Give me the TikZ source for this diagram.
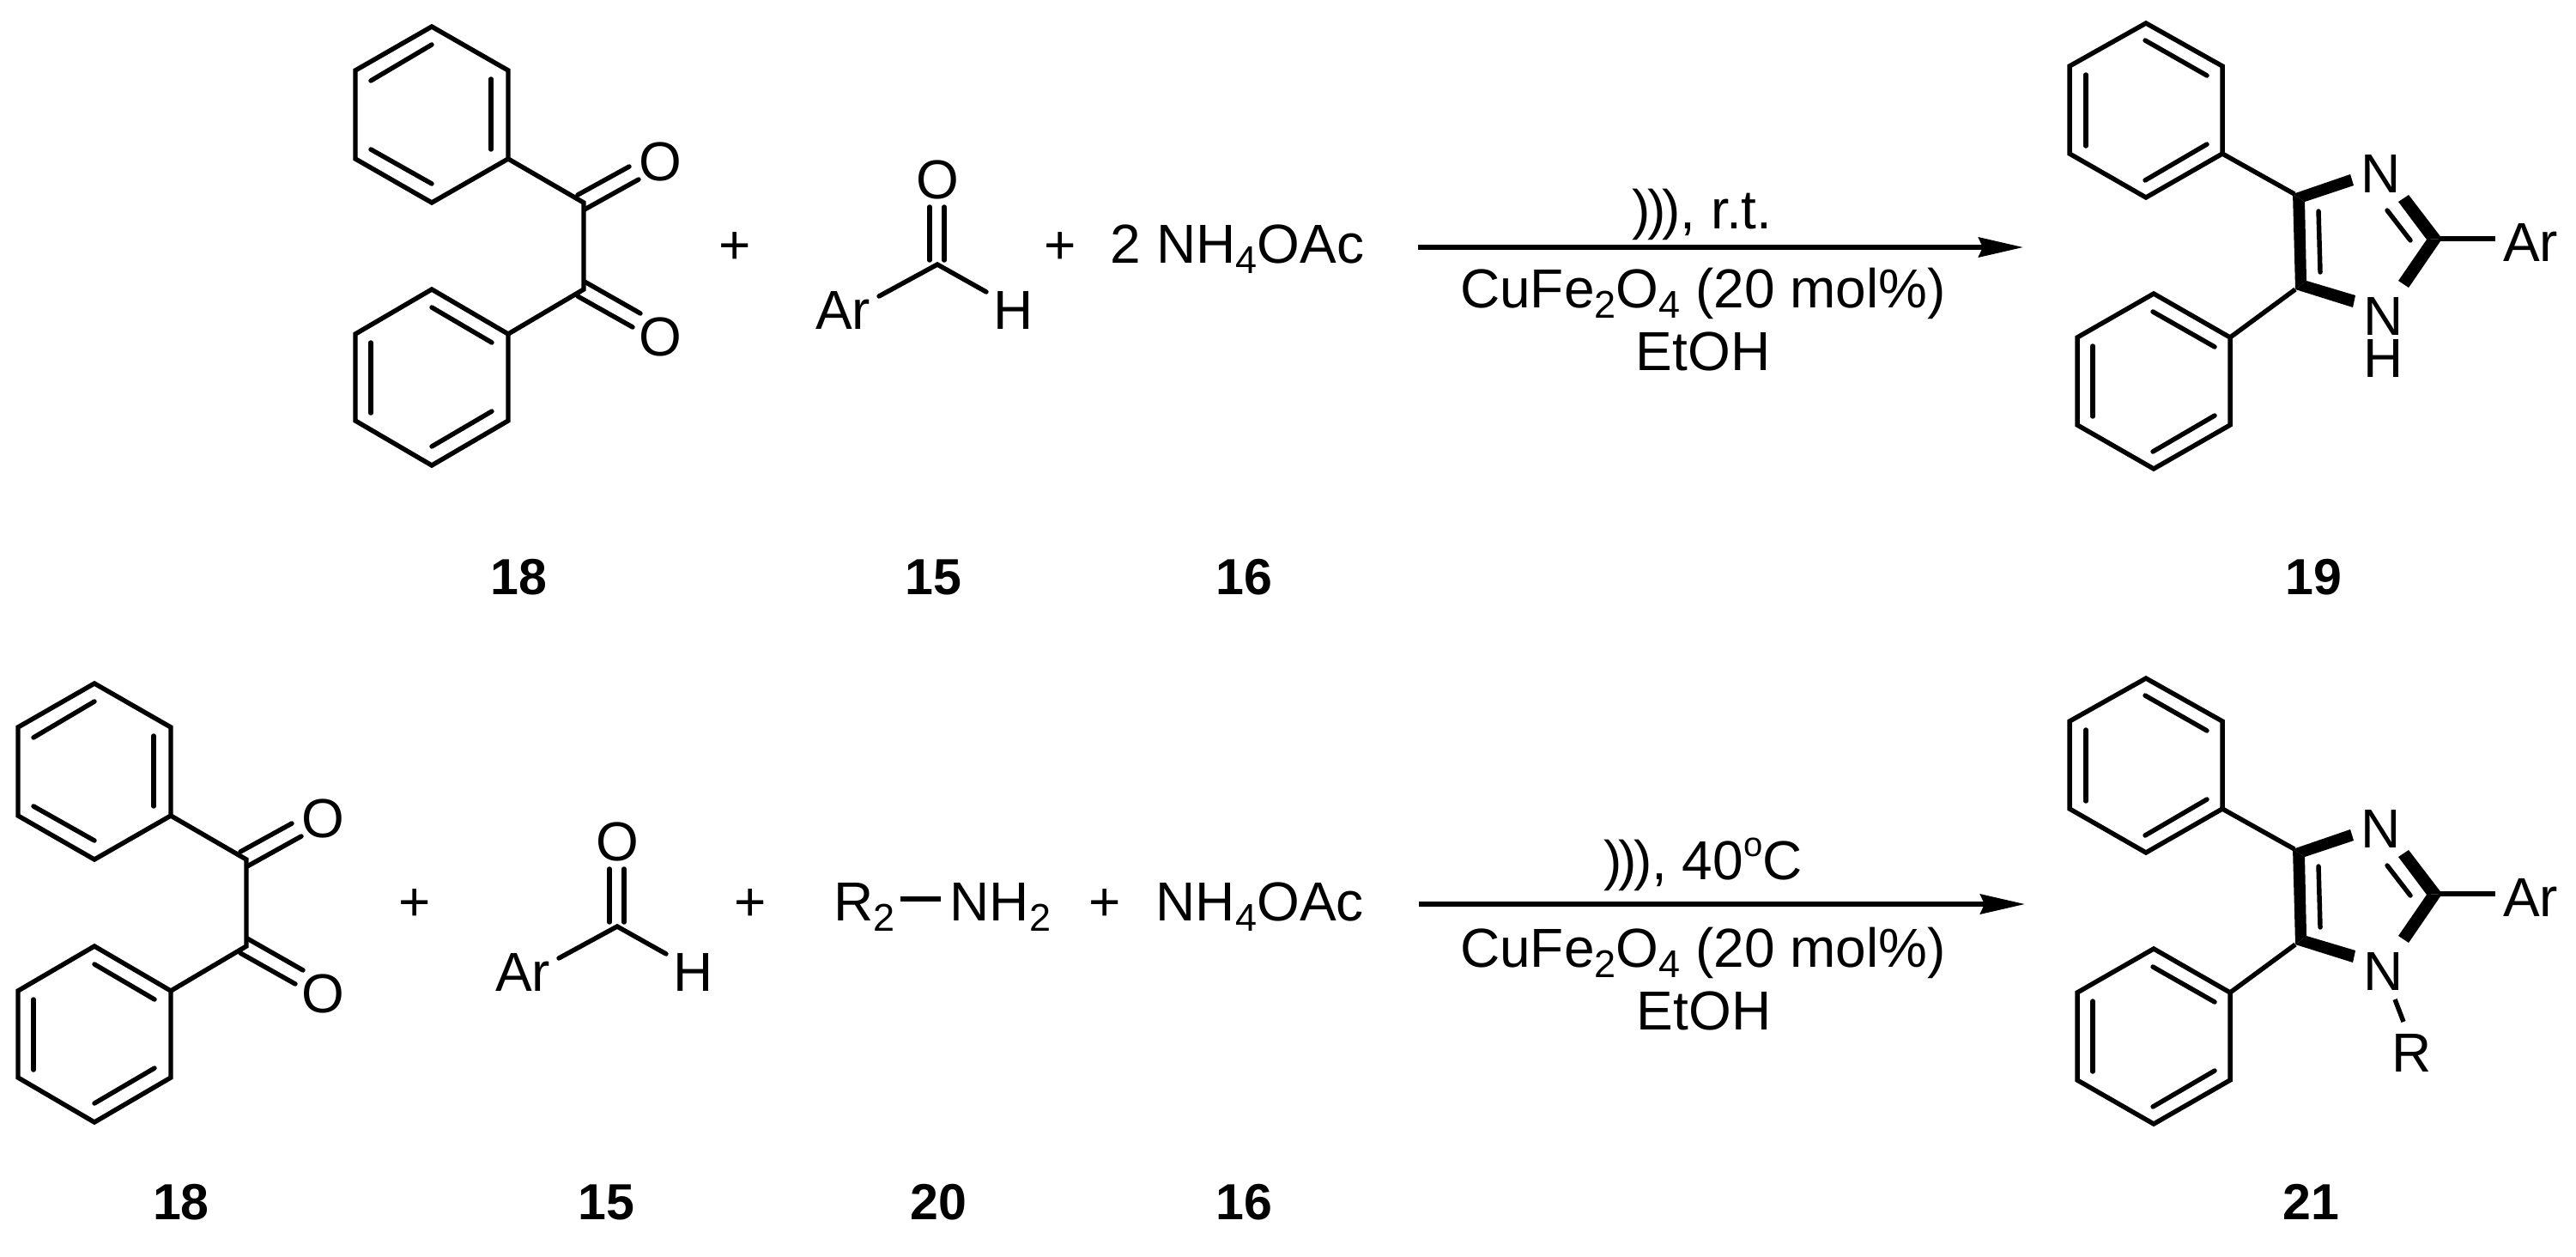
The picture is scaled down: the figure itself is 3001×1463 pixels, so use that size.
\documentclass[tikz,border=0pt]{standalone}
\usepackage{fontspec}
\setmainfont{Liberation Sans}
\usetikzlibrary{arrows.meta}
\newcommand{\fsz}{\fontsize{18.2}{21}\selectfont}
\newcommand{\lsz}{\fontsize{16.8}{20}\selectfont}
\newcommand{\sbs}[1]{\raisebox{-0.12cm}{\fontsize{12.8}{15}\selectfont #1}}
\newcommand{\prn}{)\kern-0.04cm)\kern-0.04cm)}
\tikzset{
  x=0.01cm,y=-0.01cm,
  bond/.style={line width=1.55pt,line join=miter,line cap=butt},
  inbond/.style={line width=1.55pt,line cap=round},
  wedge/.style={fill=black,draw=none},
  txt/.style={inner sep=0pt,anchor=base,font=\fsz},
  lab/.style={inner sep=0pt,anchor=base,font=\lsz\bfseries},
  rxn/.style={line width=1.55pt,-{Stealth[length=0.52cm,width=0.23cm,inset=0.05cm]}}
}
% benzil in the frame of the top row
\newcommand{\mybenzil}[1]{%
  \coordinate (#1a1) at (503,31); \coordinate (#1a2) at (592,82); \coordinate (#1a3) at (592,185);
  \coordinate (#1a4) at (503,236); \coordinate (#1a5) at (414,185); \coordinate (#1a6) at (414,82);
  \coordinate (#1b1) at (503,337); \coordinate (#1b2) at (592,389); \coordinate (#1b3) at (592,490);
  \coordinate (#1b4) at (503,542); \coordinate (#1b5) at (414,490); \coordinate (#1b6) at (414,389);
  \coordinate (#1c1) at (680,236); \coordinate (#1c2) at (680,337);
  \draw[bond] (#1a1)--(#1a2)--(#1a3)--(#1a4)--(#1a5)--(#1a6)--cycle;
  \draw[bond] (#1b1)--(#1b2)--(#1b3)--(#1b4)--(#1b5)--(#1b6)--cycle;
  \draw[bond] (#1a3)--(#1c1)--(#1c2)--(#1b2);
  \draw[inbond] (432,94)--(503,52); \draw[inbond] (572,92)--(572,174); \draw[inbond] (432,174)--(503,214);
  \draw[inbond] (503,358)--(573,399); \draw[inbond] (432,399)--(432,481); \draw[inbond] (503,520)--(573,479);
  \node[txt] (#1o1) at (769,210) {O};
  \node[txt] (#1o2) at (769,414) {O};
  \draw[inbond] (673,227)--(733,194); \draw[inbond] (681,244)--(744,209);
  \draw[inbond] (681,328)--(746,365); \draw[inbond] (673,345)--(737,381);
}
\newcommand{\myald}[1]{%
  \coordinate (#1c) at (1092,308);
  \node[txt] (#1o) at (1092,231) {O};
  \node[txt] (#1ar) at (982,383) {Ar};
  \node[txt] (#1h) at (1181,383) {H};
  \coordinate (#1e1) at (1024,345); \coordinate (#1e2) at (1149,340);
  \draw[inbond] (#1e1)--(#1c)--(#1e2);
  \draw[inbond] (1083,241)--(1083,303); \draw[inbond] (1100,241)--(1100,303);
}
\newcommand{\myimid}[1]{%
  \coordinate (#1a1) at (2500,27); \coordinate (#1a2) at (2589,77); \coordinate (#1a3) at (2589,179);
  \coordinate (#1a4) at (2500,230); \coordinate (#1a5) at (2411,179); \coordinate (#1a6) at (2411,77);
  \coordinate (#1b1) at (2509,342); \coordinate (#1b2) at (2598,393); \coordinate (#1b3) at (2598,495);
  \coordinate (#1b4) at (2509,546); \coordinate (#1b5) at (2420,495); \coordinate (#1b6) at (2420,393);
  \coordinate (#1c4) at (2673,226); \coordinate (#1c5) at (2674,337); \coordinate (#1c2) at (2843,278);
  \coordinate (#1ae) at (2907,278);
  \draw[bond] (#1a1)--(#1a2)--(#1a3)--(#1a4)--(#1a5)--(#1a6)--cycle;
  \draw[bond] (#1b1)--(#1b2)--(#1b3)--(#1b4)--(#1b5)--(#1b6)--cycle;
  \draw[bond] (#1a3)--(#1c4); \draw[bond] (#1c5)--(#1b2); \draw[bond] (#1c2)--(#1ae);
  \draw[inbond] (2499,47)--(2571,88); \draw[inbond] (2430,87)--(2430,170); \draw[inbond] (2499,210)--(2571,168);
  \draw[inbond] (2508,363)--(2580,404); \draw[inbond] (2438,403)--(2438,485); \draw[inbond] (2508,526)--(2580,484);
  \fill[wedge] (2671,226)--(2738,203)--(2742,216)--(2685,235)--cycle;
  \fill[wedge] (2671,226)--(2685,235)--(2687,327)--(2674,337)--cycle;
  \fill[wedge] (2674,337)--(2687,327)--(2744,344)--(2741,358)--cycle;
  \fill[wedge] (2806,227)--(2845,278)--(2827,279)--(2794,235)--cycle;
  \fill[wedge] (2845,278)--(2806,335)--(2794,327)--(2827,279)--cycle;
  \draw[inbond] (2701,246)--(2703,317); \draw[inbond] (2781,245)--(2808,280);
  \node[txt] (#1n3) at (2774,224) {N};
  \node[txt] (#1n1) at (2777,390) {N};
  \node[txt] (#1ar) at (2948,304) {Ar};
}
\begin{document}
\begin{tikzpicture}
\path[use as bounding box,fill=white] (0,0) rectangle (3001,1463);
% top row
\mybenzil{p}
\myald{q}
\myimid{r}
\node[txt] (rh) at (2777,439) {H};
\node[txt] (plus1) at (856,307) {+};
\node[txt] (plus2) at (1235,307) {+};
\node[txt,anchor=base west] (amm) at (1293,306) {2 NH\sbs{4}OAc};
\coordinate (a1s) at (1652,288); \coordinate (a1e) at (2357,288);
\draw[rxn] (a1s)--(a1e);
\node[txt] (c1a) at (1983,266) {\prn, r.t.};
\node[txt] (c1b) at (1984,358) {CuFe\sbs{2}O\sbs{4} (20 mol\%)};
\node[txt] (c1c) at (1984,431) {EtOH};
\node[lab] (l18a) at (604,692) {18};
\node[lab] (l15a) at (1087,692) {15};
\node[lab] (l16a) at (1449,692) {16};
\node[lab] (l19) at (2695,692) {19};
% bottom row
\begin{scope}[shift={(-393,765)}]\mybenzil{s}\end{scope}
\begin{scope}[shift={(-373,771)}]\myald{t}\end{scope}
\begin{scope}[shift={(0,763)}]\myimid{u}
  \node[txt] (ur) at (2810,485) {R};
  \coordinate (ub1) at (2790,401); \coordinate (ub2) at (2800,427);
  \draw[bond] (ub1)--(ub2);
\end{scope}
\node[txt] (plus3) at (483,1072) {+};
\node[txt] (plus4) at (874,1072) {+};
\node[txt,anchor=base west] (r2) at (971,1072) {R\sbs{2}};
\node[txt,anchor=base west] (nh2) at (1106,1072) {NH\sbs{2}};
\coordinate (d1) at (1049,1047); \coordinate (d2) at (1096,1047);
\draw[bond] (d1)--(d2);
\node[txt] (plus5) at (1287,1072) {+};
\node[txt,anchor=base west] (amm2) at (1346,1072) {NH\sbs{4}OAc};
\coordinate (a2s) at (1653,1053); \coordinate (a2e) at (2359,1053);
\draw[rxn] (a2s)--(a2e);
\node[txt] (c2a) at (1984,1024) {\prn, 40\raisebox{0.27cm}{\fontsize{11.4}{13}\selectfont o}C};
\node[txt] (c2b) at (1984,1126) {CuFe\sbs{2}O\sbs{4} (20 mol\%)};
\node[txt] (c2c) at (1985,1199) {EtOH};
\node[lab] (l18b) at (211,1420) {18};
\node[lab] (l15b) at (706,1420) {15};
\node[lab] (l20) at (1093,1420) {20};
\node[lab] (l16b) at (1449,1420) {16};
\node[lab] (l21) at (2692,1420) {21};
\end{tikzpicture}
\end{document}
